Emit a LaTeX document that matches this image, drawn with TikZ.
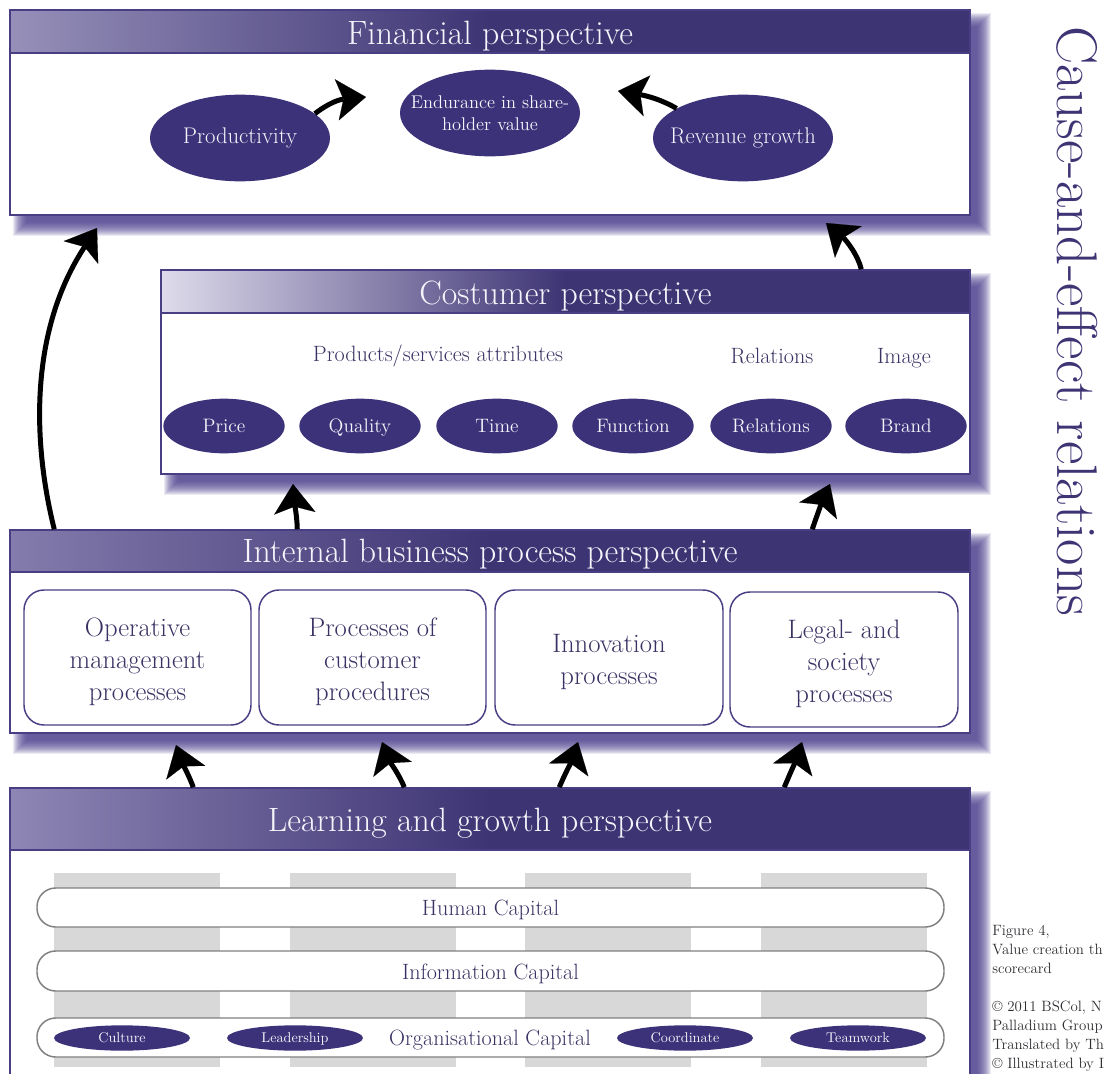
\documentclass[tikz,border=0pt]{standalone}
\usepackage{fontspec}
\usetikzlibrary{arrows.meta,shapes.geometric,calc,fit}
\definecolor{pdark}{RGB}{61,52,116}
\definecolor{pell}{RGB}{60,50,122}
\definecolor{ptext}{RGB}{58,50,100}
\definecolor{pshadow}{RGB}{70,58,138}
\definecolor{pborder}{RGB}{72,62,132}
\definecolor{stripegray}{RGB}{216,216,216}
\definecolor{capgray}{RGB}{128,128,128}
\definecolor{hdrwhite}{RGB}{246,244,250}
\definecolor{lightfin}{RGB}{150,144,185}
\definecolor{lightcost}{RGB}{222,219,235}
\definecolor{lightint}{RGB}{132,124,172}
\definecolor{lightlearn}{RGB}{142,134,180}
\definecolor{notegray}{RGB}{45,45,50}
\newcommand\mkshadow[4]{%
  \foreach \e in {9,8,...,-5}{%
    \fill[pshadow, opacity=0.11] ({#1+12-\e},{#2+12-\e}) rectangle ({#3+12+\e},{#4+12+\e});
  }}
\tikzset{
  panel/.style={draw=pborder, line width=1.1pt, fill=white, inner sep=0pt},
  hdrbar/.style={draw=pborder, line width=1.1pt, inner sep=0pt, left color=#1, right color=pdark, middle color=pdark},
  hdrtext/.style={text=hdrwhite, font=\fontsize{25.3}{29}\selectfont, inner sep=0pt, anchor=base},
  bigell/.style={ellipse, fill=pell, text=hdrwhite, inner ysep=0pt, inner xsep=-13pt, minimum width=135pt, minimum height=65pt, font=\fontsize{17}{18}\selectfont, align=center},
  attell/.style={ellipse, fill=pell, text=hdrwhite, inner sep=0pt, minimum width=91pt, minimum height=41pt, font=\fontsize{14.6}{16}\selectfont, text height=10.5pt, text depth=1pt},
  smallell/.style={ellipse, fill=pell, text=hdrwhite, inner sep=0pt, minimum width=102pt, minimum height=19pt, font=\fontsize{10.6}{12}\selectfont, text height=7.6pt, text depth=0.7pt},
  procbox/.style={draw=pborder, line width=1.1pt, rounded corners=15pt, fill=white, inner sep=0pt},
  proctext/.style={text=ptext, align=center, font=\fontsize{20}{24}\selectfont, inner sep=0pt},
  capsule/.style={draw=capgray, line width=1.1pt, rounded corners=14pt, fill=white, inner sep=0pt},
  bodytext/.style={text=ptext, font=\fontsize{16.6}{18}\selectfont, inner sep=0pt, text height=12pt, text depth=1pt},
  stripe/.style={fill=stripegray, draw=none, inner sep=0pt},
  causal/.style={line width=3.75pt, black, -{Stealth[length=22pt, width=31pt, inset=5pt, line width=0.1pt]}},
}
\begin{document}
\begin{tikzpicture}[x=0.75pt, y=-0.75pt]
\path[use as bounding box] (0,0) rectangle (1104,1074);
\clip (0,0) rectangle (1104,1074);
% shadows
\mkshadow{10}{10}{970}{215}
\mkshadow{161}{270}{970}{474}
\mkshadow{10}{530}{970}{733}
\mkshadow{10}{788}{970}{1100}
% ---------- Financial
\node[panel, fit={(10,10)(970,215)}] (finbox) {};
\node[hdrbar=lightfin, fit={(10,10)(970,53)}] (finh) {};
\node[hdrtext] (fint) at ($(finh.north)+(0,35)$) {Financial perspective};
\node[bigell] (prod) at (240,138) {Productivity};
\node[bigell, font=\fontsize{13.8}{16.5}\selectfont] (endu) at (490,113) {Endurance in share-\\holder value};
\node[bigell] (rev) at (743,138) {Revenue growth};
% ---------- Costumer
\node[panel, fit={(161,270)(970,474)}] (costbox) {};
\node[hdrbar=lightcost, fit={(161,270)(970,313)}] (costh) {};
\node[hdrtext] (costt) at ($(costh.north)+(0,35)$) {Costumer perspective};
\node[bodytext] (attr) at (438,354) {Products/services attributes};
\node[bodytext] (rell) at (772,356) {Relations};
\node[bodytext] (imgl) at (904,356) {Image};
\node[attell] (price) at (224,426) {Price};
\node[attell] (qual) at (360,426) {Quality};
\node[attell] (time) at (497,426) {Time};
\node[attell] (func) at (633,426) {Function};
\node[attell] (rels) at (771,426) {Relations};
\node[attell] (brand) at (906,426) {Brand};
% ---------- Internal
\node[panel, fit={(10,530)(970,733)}] (intbox) {};
\node[hdrbar=lightint, fit={(10,530)(970,572)}] (inth) {};
\node[hdrtext] (intt) at ($(inth.north)+(0,33)$) {Internal business process perspective};
\node[procbox, fit={(24,590)(251,725)}] (p1) {};
\node[procbox, fit={(259,590)(486,725)}] (p2) {};
\node[procbox, fit={(495,590)(723,725)}] (p3) {};
\node[procbox, fit={(730,592)(958,727)}] (p4) {};
\node[proctext] (p1t) at ($(p1.center)+(0,4)$) {Operative\\management\\processes};
\node[proctext] (p2t) at ($(p2.center)+(0,4)$) {Processes of\\customer\\procedures};
\node[proctext] (p3t) at ($(p3.center)+(0,4)$) {Innovation\\processes};
\node[proctext] (p4t) at ($(p4.center)+(0,4)$) {Legal- and\\society\\processes};
% ---------- Learning
\node[panel, fit={(10,788)(970,1100)}] (learnbox) {};
\node[hdrbar=lightlearn, fit={(10,788)(970,850)}] (learnh) {};
\node[hdrtext] (learnt) at ($(learnh.north)+(0,44)$) {Learning and growth perspective};
\node[stripe, fit={(54,873)(220,1067)}] (s1) {};
\node[stripe, fit={(290,873)(456,1067)}] (s2) {};
\node[stripe, fit={(525,873)(691,1067)}] (s3) {};
\node[stripe, fit={(761,873)(927,1067)}] (s4) {};
\node[capsule, fit={(37,888)(944,927)}] (hum) {};
\node[capsule, fit={(37,951)(944,991)}] (info) {};
\node[capsule, fit={(37,1018)(944,1057)}] (org) {};
\node[bodytext] (humt) at ($(hum.center)+(0,1)$) {Human Capital};
\node[bodytext] (infot) at ($(info.center)+(0,1)$) {Information Capital};
\node[bodytext] (orgt) at (490,1038) {Organisational Capital};
\node[smallell] (cult) at (122,1038) {Culture};
\node[smallell] (lead) at (295,1038) {Leadership};
\node[smallell] (coord) at (685,1038) {Coordinate};
\node[smallell] (team) at (858,1038) {Teamwork};
% ---------- side texts
\node[rotate=-90, text=pdark, font=\fontsize{43}{44}\selectfont, inner sep=0pt] (cause) at (1077,321) {Cause-and-effect relations};
\node[anchor=north west, align=left, text=notegray, font=\fontsize{11.2}{14.3}\selectfont, inner sep=0pt] (note) at (992,925)
  {Figure 4,\\Value creation th\\scorecard\\[14.3pt]\textcopyright{} 2011 BSCol, N\\Palladium Group\\Translated by Th\\\textcopyright{} Illustrated by I};
% ---------- arrow tips
\coordinate (tipA) at (366,97);
\coordinate (tipB) at (618,91);
\coordinate (tipC) at (97,228);
\coordinate (tipD) at (826,223);
\coordinate (tipE) at (293,484);
\coordinate (tipF) at (830,484);
\coordinate (tipG) at (176,745);
\coordinate (tipH) at (382,742);
\coordinate (tipI) at (578,742);
\coordinate (tipJ) at (802,742);
% ---------- arrows
\draw[causal] (prod.18) .. controls (322,108) and (335,100) .. (tipA);
\draw[causal] (rev.156) .. controls (662,100) and (648,96) .. (tipB);
\draw[causal] ($(inth.north west)+(45,0)$) .. controls (32,440) and (30,330) .. (tipC);
\draw[causal] ($(costh.north west)+(701,0)$) .. controls (858,255) and (846,240) .. (tipD);
\draw[causal] ($(inth.north west)+(288,0)$) .. controls (297,515) and (294,500) .. (tipE);
\draw[causal] ($(inth.north west)+(803,0)$) .. controls (816,518) and (822,502) .. (tipF);
\draw[causal] ($(learnh.north west)+(184,0)$) .. controls (190,778) and (182,762) .. (tipG);
\draw[causal] ($(learnh.north west)+(395,0)$) .. controls (400,776) and (389,760) .. (tipH);
\draw[causal] ($(learnh.north west)+(550,0)$) .. controls (564,776) and (572,760) .. (tipI);
\draw[causal] ($(learnh.north west)+(775,0)$) .. controls (789,776) and (796,760) .. (tipJ);
\end{tikzpicture}
\end{document}
